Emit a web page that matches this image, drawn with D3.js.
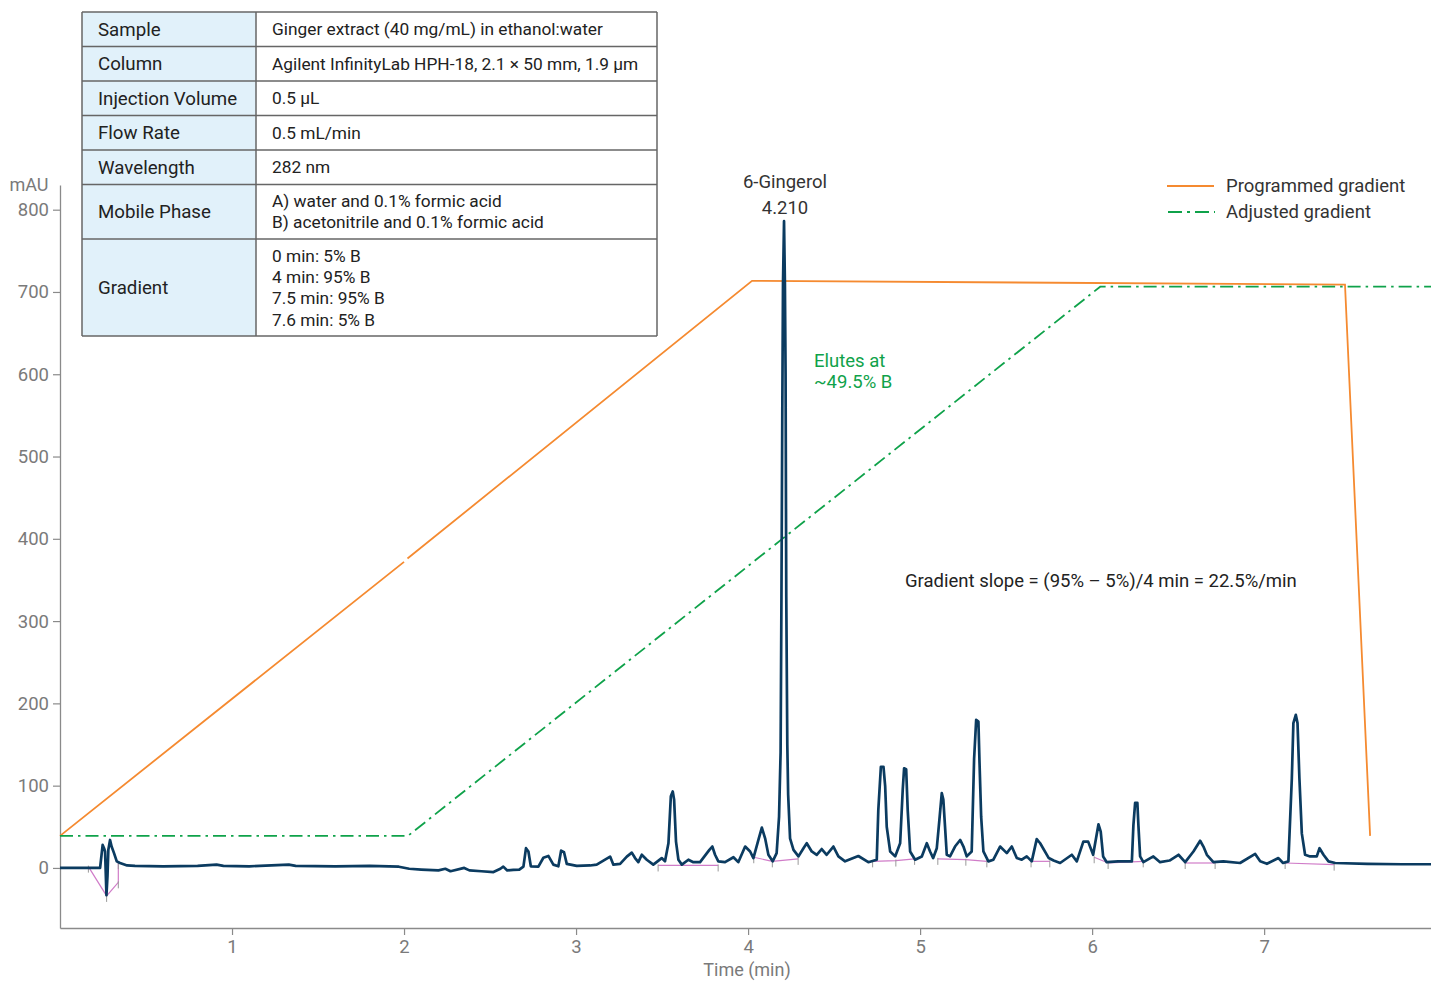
<!DOCTYPE html>
<html>
<head>
<meta charset="utf-8">
<script src="https://cdn.jsdelivr.net/npm/d3@7"></script>
<style>
  html, body { margin: 0; padding: 0; background: #fff; }
  svg { display: block; font-family: Roboto, "Noto Sans", sans-serif; }
</style>
</head>
<body>
<svg id="chart" width="1431" height="981"></svg>
<script>
// ---------------- DATA ----------------
const timeTicks = [1, 2, 3, 4, 5, 6, 7];
const mauTicks = [0, 100, 200, 300, 400, 500, 600, 700, 800];

// chromatogram trace [time (min), mAU]
const chromatogram = [
  [0.000, 0], [0.116, 0], [0.233, 0], [0.241, 15], [0.248, 28], [0.256, 24], [0.262, 20],
  [0.270, -33], [0.276, -10], [0.281, 22], [0.291, 34], [0.300, 26], [0.314, 18], [0.330, 8],
  [0.349, 6], [0.390, 3], [0.436, 2.5], [0.60, 2], [0.80, 2.5], [0.91, 4], [0.95, 2.5],
  [1.10, 2], [1.33, 4], [1.37, 2.5], [1.60, 2], [1.80, 2.5], [1.97, 1.5],
  [2.03, -1], [2.10, -2], [2.20, -3], [2.24, -1], [2.27, -4], [2.35, 0], [2.38, -3],
  [2.45, -4], [2.52, -5], [2.56, -1], [2.577, 1.6], [2.60, -3], [2.635, -2.4], [2.67, -2],
  [2.694, 1.6], [2.709, 24], [2.723, 20], [2.737, 2], [2.781, 1.6], [2.810, 12.4], [2.839, 14.6],
  [2.868, 4], [2.897, 2], [2.913, 21], [2.930, 19], [2.946, 5], [3.004, 2.5], [3.081, 3],
  [3.120, 4], [3.198, 13.8], [3.217, 4], [3.256, 5], [3.295, 13.8], [3.324, 18.6], [3.343, 12],
  [3.362, 7], [3.382, 16], [3.411, 10], [3.449, 4], [3.498, 12], [3.517, 8], [3.537, 30],
  [3.551, 87], [3.562, 93], [3.570, 83], [3.581, 32], [3.595, 10], [3.615, 4], [3.653, 10],
  [3.682, 7], [3.721, 7], [3.775, 22], [3.792, 26], [3.808, 16], [3.827, 8], [3.866, 7],
  [3.915, 13], [3.943, 7], [3.983, 26], [4.012, 20], [4.031, 12], [4.060, 34], [4.080, 49],
  [4.099, 36], [4.118, 16], [4.143, 8], [4.166, 18], [4.180, 62], [4.189, 140], [4.194, 330],
  [4.199, 560], [4.203, 710], [4.209, 786], [4.214, 712], [4.218, 600], [4.222, 330],
  [4.228, 150], [4.233, 89], [4.244, 36], [4.264, 22], [4.293, 14], [4.322, 24], [4.341, 30],
  [4.370, 20], [4.399, 16], [4.428, 23], [4.457, 16], [4.496, 26], [4.525, 14], [4.564, 8],
  [4.641, 14.5], [4.699, 7], [4.748, 10], [4.757, 70], [4.772, 123], [4.787, 123], [4.797, 99],
  [4.806, 50], [4.826, 20], [4.855, 14], [4.884, 30], [4.899, 95], [4.907, 121], [4.919, 120],
  [4.928, 70], [4.942, 20], [4.971, 10], [5.010, 14], [5.039, 30], [5.058, 20], [5.076, 12],
  [5.097, 24], [5.112, 58], [5.126, 91], [5.135, 83], [5.145, 50], [5.155, 16], [5.174, 14],
  [5.203, 26], [5.233, 34], [5.252, 26], [5.271, 14], [5.300, 20], [5.314, 133], [5.326, 180],
  [5.339, 178], [5.345, 131], [5.355, 62], [5.368, 20], [5.397, 8], [5.426, 10], [5.465, 26],
  [5.504, 18], [5.533, 26], [5.562, 12], [5.591, 10], [5.620, 14], [5.649, 8], [5.678, 35],
  [5.698, 30], [5.748, 12], [5.776, 9], [5.814, 6], [5.882, 16], [5.911, 8], [5.949, 32],
  [5.977, 32], [6.006, 16], [6.037, 53], [6.050, 44], [6.064, 14], [6.085, 7], [6.150, 8],
  [6.231, 8], [6.240, 52], [6.250, 79], [6.263, 79], [6.269, 52], [6.279, 14], [6.298, 7],
  [6.356, 14], [6.395, 7], [6.450, 9], [6.502, 16], [6.541, 7], [6.589, 20], [6.628, 33],
  [6.647, 26], [6.667, 16], [6.705, 7], [6.763, 8], [6.860, 6], [6.948, 17], [6.977, 8],
  [7.016, 5], [7.083, 12], [7.110, 6], [7.141, 8], [7.161, 109], [7.170, 176], [7.184, 186],
  [7.194, 176], [7.205, 109], [7.219, 42], [7.238, 16], [7.267, 14], [7.306, 14], [7.322, 24],
  [7.345, 16], [7.374, 8], [7.413, 6], [7.60, 5], [7.80, 4.5], [7.97, 4.5]
];

// integration baselines [time, mAU]
const baselines = [
  [[0.165, 1.6], [0.271, -34], [0.339, -17.5], [0.339, 5.7]],
  [[3.477, 3], [3.826, 3]],
  [[4.033, 13], [4.141, 8], [4.291, 11]],
  [[4.724, 8], [4.859, 9], [4.968, 11]],
  [[5.103, 11], [5.266, 10], [5.388, 8]],
  [[5.645, 8], [5.754, 8]],
  [[6.012, 13], [6.093, 6], [6.297, 8]],
  [[6.541, 6], [6.715, 6]],
  [[7.122, 6], [7.407, 4]]
];

// gradients drawn on the mAU scale
const programmedGradient = [[0, 39], [2.0, 372], null, [2.02, 376], [4.023, 713.5], [7.47, 709], [7.616, 39]];
const adjustedGradient = [[0, 39], [2.023, 39], [6.047, 706.4], [7.97, 706.4]];

const tableLabels = ["Sample", "Column", "Injection Volume", "Flow Rate", "Wavelength", "Mobile Phase", "Gradient"];
const tableValues = [
  ["Ginger extract (40 mg/mL) in ethanol:water"],
  ["Agilent InfinityLab HPH-18, 2.1 × 50 mm, 1.9 µm"],
  ["0.5 µL"],
  ["0.5 mL/min"],
  ["282 nm"],
  ["A) water and 0.1% formic acid", "B) acetonitrile and 0.1% formic acid"],
  ["0 min: 5% B", "4 min: 95% B", "7.5 min: 95% B", "7.6 min: 5% B"]
];
const legendItems = ["Programmed gradient", "Adjusted gradient"];

// ---------------- DRAW ----------------
const svg = d3.select("#chart");
const x = d3.scaleLinear().domain([0, 7.97]).range([60, 1431]);
const y = d3.scaleLinear().domain([-73, 830]).range([928, 185]);

const ORANGE = "#F58A30", GREEN = "#0FA24A", NAVY = "#0B3B60", PINK = "#C865BE";
const AXIS = "#8a8a8a", LABEL = "#7a7a7a";

// axes
const minorX = d3.range(1, 40).map(i => i * 0.2).filter(v => Math.abs(v - Math.round(v)) > 1e-6);
const minorY = d3.range(-60, 821, 20).filter(v => v % 100 !== 0);

const gx = svg.append("g").attr("transform", `translate(0,${y.range()[0]})`);
gx.call(d3.axisBottom(x).tickValues(minorX).tickSize(5).tickFormat("").tickSizeOuter(0));
gx.call(d3.axisBottom(x).tickValues(timeTicks).tickSize(7).tickPadding(5).tickFormat(d3.format("d")).tickSizeOuter(0));
gx.selectAll("path.domain").attr("stroke", AXIS).attr("stroke-width", 1.3);
gx.selectAll("line").attr("stroke", AXIS).attr("stroke-width", 1.2);
gx.selectAll("text").attr("fill", LABEL).style("font-size", "18.5px").style("font-family", "Roboto");

const gy = svg.append("g").attr("transform", `translate(${x.range()[0]},0)`);
gy.call(d3.axisLeft(y).tickValues(minorY).tickSize(4).tickFormat("").tickSizeOuter(0));
gy.call(d3.axisLeft(y).tickValues(mauTicks).tickSize(7).tickPadding(4).tickFormat(d3.format("d")).tickSizeOuter(0));
gy.selectAll("path.domain").attr("stroke", AXIS).attr("stroke-width", 1.3);
gy.selectAll("line").attr("stroke", AXIS).attr("stroke-width", 1.2);
gy.selectAll("text").attr("fill", LABEL).style("font-size", "18.5px").style("font-family", "Roboto");

svg.append("text").attr("x", 29).attr("y", 191).attr("text-anchor", "middle")
  .attr("fill", LABEL).style("font-size", "18px").text("mAU");
svg.append("text").attr("x", 747).attr("y", 976).attr("text-anchor", "middle")
  .attr("fill", LABEL).style("font-size", "18px").text("Time (min)");

const line = d3.line().defined(d => d !== null).x(d => x(d[0])).y(d => y(d[1]));

// gradients
svg.append("path").datum(programmedGradient).attr("d", line)
  .attr("fill", "none").attr("stroke", ORANGE).attr("stroke-width", 1.8);
svg.append("path").datum(adjustedGradient).attr("d", line)
  .attr("fill", "none").attr("stroke", GREEN).attr("stroke-width", 1.8)
  .attr("stroke-dasharray", "13,5,2.5,5");

// integration baselines
baselines.forEach(seg => {
  svg.append("path").datum(seg).attr("d", line)
    .attr("fill", "none").attr("stroke", PINK).attr("stroke-width", 1.2).attr("opacity", 0.85);
  seg.forEach(p => {
    svg.append("line").attr("x1", x(p[0])).attr("x2", x(p[0]))
      .attr("y1", y(p[1]) - 1).attr("y2", y(p[1]) + 6)
      .attr("stroke", "#999").attr("stroke-width", 1);
  });
});

// chromatogram
svg.append("path").datum(chromatogram).attr("d", line)
  .attr("fill", "none").attr("stroke", NAVY).attr("stroke-width", 2.7)
  .attr("stroke-linejoin", "round");

// annotations
const ANN = "18.5px";
svg.append("text").attr("x", 785).attr("y", 188).attr("text-anchor", "middle")
  .attr("fill", "#333").style("font-size", ANN).text("6-Gingerol");
svg.append("text").attr("x", 785).attr("y", 214).attr("text-anchor", "middle")
  .attr("fill", "#333").style("font-size", ANN).text("4.210");
svg.append("text").attr("x", 814).attr("y", 367)
  .attr("fill", GREEN).style("font-size", ANN).text("Elutes at");
svg.append("text").attr("x", 814).attr("y", 388)
  .attr("fill", GREEN).style("font-size", ANN).text("~49.5% B");
svg.append("text").attr("x", 905).attr("y", 587)
  .attr("fill", "#222").style("font-size", ANN).text("Gradient slope = (95% – 5%)/4 min = 22.5%/min");

// legend
const lg = svg.append("g");
lg.append("line").attr("x1", 1167).attr("x2", 1214).attr("y1", 186).attr("y2", 186)
  .attr("stroke", ORANGE).attr("stroke-width", 2);
lg.append("line").attr("x1", 1168).attr("x2", 1215).attr("y1", 212).attr("y2", 212)
  .attr("stroke", GREEN).attr("stroke-width", 2).attr("stroke-dasharray", "14,5,3,5");
legendItems.forEach((t, i) => {
  lg.append("text").attr("x", 1226).attr("y", 192 + i * 26)
    .attr("fill", "#333").style("font-size", ANN).text(t);
});

// table
const rowEdges = [12, 46.5, 81, 115.5, 150, 184.5, 239, 336];
const tX0 = 82, tX1 = 256, tX2 = 657;
const tg = svg.append("g");
tableLabels.forEach((lab, i) => {
  const y0 = rowEdges[i], y1 = rowEdges[i + 1];
  tg.append("rect").attr("x", tX0).attr("y", y0).attr("width", tX1 - tX0).attr("height", y1 - y0)
    .attr("fill", "#E1F1FA");
  tg.append("rect").attr("x", tX1).attr("y", y0).attr("width", tX2 - tX1).attr("height", y1 - y0)
    .attr("fill", "#fff");
  tg.append("text").attr("x", 98).attr("y", (y0 + y1) / 2).attr("dy", "0.35em")
    .attr("fill", "#222").style("font-size", "18.7px").text(lab);
  const vals = tableValues[i];
  const lh = vals.length > 2 ? 21.3 : 21;
  const mid = (y0 + y1) / 2;
  vals.forEach((v, j) => {
    tg.append("text").attr("x", 272).attr("y", mid + (j - (vals.length - 1) / 2) * lh).attr("dy", "0.35em")
      .attr("fill", "#222").style("font-size", "17.3px").text(v);
  });
});
rowEdges.forEach(e => {
  tg.append("line").attr("x1", tX0).attr("x2", tX2).attr("y1", e).attr("y2", e)
    .attr("stroke", "#666").attr("stroke-width", 1.5);
});
[tX0, tX1, tX2].forEach(c => {
  tg.append("line").attr("x1", c).attr("x2", c).attr("y1", rowEdges[0]).attr("y2", rowEdges[rowEdges.length - 1])
    .attr("stroke", "#666").attr("stroke-width", 1.5);
});
</script>
</body>
</html>
